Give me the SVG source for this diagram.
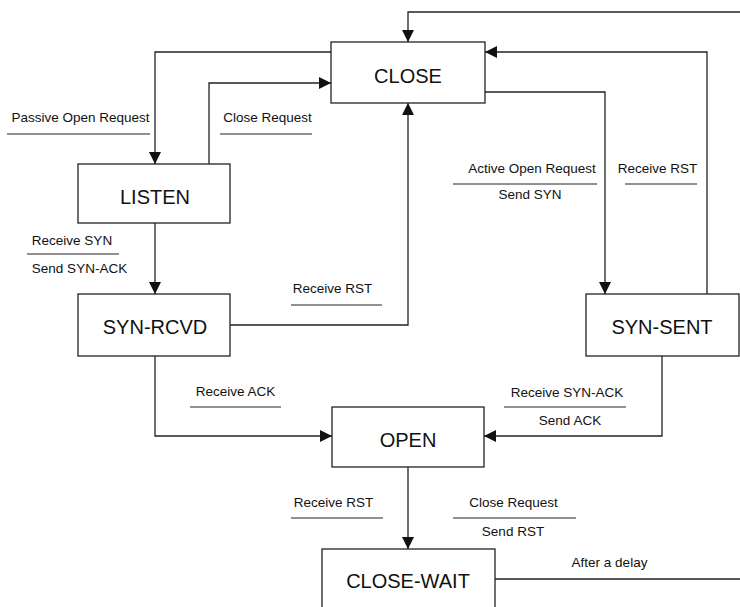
<svg xmlns="http://www.w3.org/2000/svg" width="740" height="607" viewBox="0 0 740 607">
<style>
.box{fill:#fff;stroke:#222;stroke-width:1.3}
.st{font-family:"Liberation Sans",Arial,sans-serif;font-size:20px;fill:#111;text-anchor:middle}
.lb{font-family:"Liberation Sans",Arial,sans-serif;font-size:13.5px;fill:#111;text-anchor:middle}
.ul{stroke:#222;stroke-width:1.2}
.cn{fill:none;stroke:#222;stroke-width:1.3}
</style>
<defs>
<marker id="ah" markerUnits="userSpaceOnUse" markerWidth="12" markerHeight="12" refX="12" refY="6" orient="auto">
<path d="M0,0 L12,6 L0,12 z" fill="#111"/>
</marker>
</defs>
<rect width="740" height="607" fill="#fff"/>
<g id="connectors">
<path class="cn" d="M331,52 H155 V164" marker-end="url(#ah)"/>
<path class="cn" d="M209,164 V83 H331" marker-end="url(#ah)"/>
<path class="cn" d="M485,92 H605 V294" marker-end="url(#ah)"/>
<path class="cn" d="M707,294 V52 H485" marker-end="url(#ah)"/>
<path class="cn" d="M155,223 V294" marker-end="url(#ah)"/>
<path class="cn" d="M230,325 H408 V103" marker-end="url(#ah)"/>
<path class="cn" d="M155,356 V436 H332" marker-end="url(#ah)"/>
<path class="cn" d="M662,356 V436 H484" marker-end="url(#ah)"/>
<path class="cn" d="M408,467 V549" marker-end="url(#ah)"/>
<path class="cn" d="M495,579 H746 V12 H408 V42" marker-end="url(#ah)"/>
</g>
<g id="labels">
<text class="lb" x="80.5" y="122">Passive Open Request</text>
<line class="ul" x1="7" y1="134" x2="150" y2="134"/>
<text class="lb" x="267.5" y="122">Close Request</text>
<line class="ul" x1="220" y1="134" x2="312" y2="134"/>
<text class="lb" x="532" y="173">Active Open Request</text>
<line class="ul" x1="453" y1="184" x2="597" y2="184"/>
<text class="lb" x="530" y="199">Send SYN</text>
<text class="lb" x="657.5" y="173">Receive RST</text>
<line class="ul" x1="625" y1="184" x2="697" y2="184"/>
<text class="lb" x="72" y="245">Receive SYN</text>
<line class="ul" x1="27" y1="254" x2="119" y2="254"/>
<text class="lb" x="79.5" y="273">Send SYN-ACK</text>
<text class="lb" x="332.5" y="293">Receive RST</text>
<line class="ul" x1="291" y1="305" x2="382" y2="305"/>
<text class="lb" x="235.5" y="396">Receive ACK</text>
<line class="ul" x1="190" y1="407" x2="281" y2="407"/>
<text class="lb" x="567" y="397">Receive SYN-ACK</text>
<line class="ul" x1="504" y1="407" x2="626" y2="407"/>
<text class="lb" x="570" y="425">Send ACK</text>
<text class="lb" x="333.5" y="507">Receive RST</text>
<line class="ul" x1="291" y1="518" x2="383" y2="518"/>
<text class="lb" x="513.5" y="507">Close Request</text>
<line class="ul" x1="453" y1="518" x2="576" y2="518"/>
<text class="lb" x="513" y="536">Send RST</text>
<text class="lb" x="609.5" y="567">After a delay</text>
</g>
<g id="CLOSE"><rect class="box" x="331" y="42" width="154" height="61"/><text class="st" x="408" y="83">CLOSE</text></g>
<g id="LISTEN"><rect class="box" x="78" y="164" width="152" height="59"/><text class="st" x="155" y="204">LISTEN</text></g>
<g id="SYN-RCVD"><rect class="box" x="78" y="294" width="152" height="62"/><text class="st" x="155" y="334">SYN-RCVD</text></g>
<g id="SYN-SENT"><rect class="box" x="586" y="294" width="153" height="62"/><text class="st" x="662" y="334">SYN-SENT</text></g>
<g id="OPEN"><rect class="box" x="332" y="407" width="152" height="60"/><text class="st" x="408" y="447">OPEN</text></g>
<g id="CLOSE-WAIT"><rect class="box" x="322" y="549" width="173" height="64"/><text class="st" x="408" y="588">CLOSE-WAIT</text></g>
</svg>
